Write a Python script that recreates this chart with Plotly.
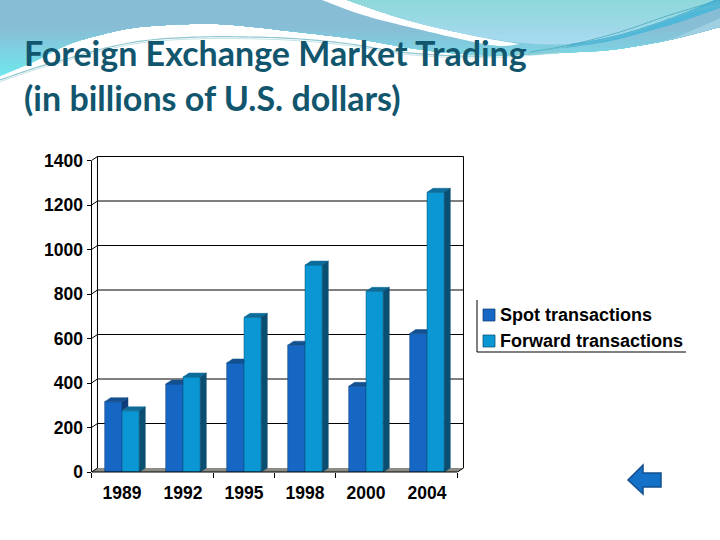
import numpy as np
import plotly.graph_objects as go

W, H = 720, 540
years = ["1989", "1992", "1995", "1998", "2000", "2004"]
spot = [316, 395, 490, 570, 385, 622]
forward = [275, 427, 695, 930, 812, 1257]
y_ticks = [0, 200, 400, 600, 800, 1000, 1200, 1400]
series_names = ["Spot transactions", "Forward transactions"]
title_lines = ["Foreign Exchange Market Trading", "(in billions of U.S. dollars)"]
x_marks = [-0.5, 1.5, 2.5, 3.5, 5.5]

SPOT = dict(front="#1567c3", top="#12508f", side="#103c78")
FWD = dict(front="#0a97d3", top="#0d6c9a", side="#0a4f72")
BW = 0.284
DX, DY = 0.098, 18
XR = [-0.5, 5.62]
YR = [0, 1420]
PX_CAT, PX_UNIT = 61, 0.2225
LEFT, BOTTOM = 91.5, 472


def px(x):
    return x / W


def py(y):
    return 1 - y / H


def smooth(pts, n=10):
    P = np.array([pts[0]] + list(pts) + [pts[-1]], float)
    out = []
    for i in range(1, len(P) - 2):
        for t in np.linspace(0, 1, n, endpoint=False):
            a = 2 * P[i] + (P[i + 1] - P[i - 1]) * t
            b = (2 * P[i - 1] - 5 * P[i] + 4 * P[i + 1] - P[i + 2]) * t * t
            c = (3 * P[i] - P[i - 1] - 3 * P[i + 1] + P[i + 2]) * t ** 3
            out.append(0.5 * (a + b + c))
    out.append(P[-2])
    return [tuple(p) for p in out]


def path(pts, close=True):
    s = "M" + " L".join(f"{px(x):.5f},{py(y):.5f}" for x, y in pts)
    return s + (" Z" if close else "")


def mix(c1, c2, t):
    a = [int(c1[i:i + 2], 16) for i in (1, 3, 5)]
    b = [int(c2[i:i + 2], 16) for i in (1, 3, 5)]
    return "#" + "".join(f"{round(u + (v - u) * t):02x}" for u, v in zip(a, b))


shapes = []


def deco(pts, fill, line=None, lw=1, close=True):
    shapes.append(dict(type="path", path=path(pts, close), xref="paper", yref="paper",
                       fillcolor=fill if close else "rgba(0,0,0,0)",
                       line=dict(color=line or "rgba(0,0,0,0)", width=lw if line else 0),
                       layer="below"))


# header wave: vertical gradients built from stacked clipped polygons
main_edge = smooth([(0, 76), (33, 62), (67, 45), (100, 35), (133, 28), (167, 25), (200, 24),
                    (233, 25), (297, 32), (363, 40), (403, 47), (440, 52), (480, 55), (523, 55),
                    (560, 53), (610, 50), (660, 42), (690, 35), (720, 27)])
for t in np.linspace(80, 4, 20):
    u = (80 - t) / 76
    col = mix("#6fe9ee", "#88bdd6", min(1, u * 1.5))
    deco([(x, min(y, t)) for x, y in main_edge] + [(720, 0), (0, 0)], col)

# far-right light tail and darker band
deco(smooth([(677, 37), (700, 27), (720, 18)]) + [(720, 27), (690, 35), (660, 42)], "#9fcfe0")
deco(smooth([(565, 48), (600, 43), (627, 37), (677, 23), (720, 8)]) + [(720, 0), (640, 0), (577, 40)], "#4fb7d8")

# white stripe
deco(smooth([(347, 0), (397, 17), (447, 30), (490, 39), (520, 44)]) +
     smooth([(520, 44), (490, 45), (413, 28), (363, 15), (322, 0)]), "#ffffff")

# top-right teal region
teal_edge = smooth([(347, 0), (397, 17), (447, 30), (500, 40), (537, 44), (577, 43), (627, 32),
                    (677, 15), (713, 0)])
for t in np.linspace(46, 2, 12):
    u = (46 - t) / 44
    col = mix("#a9daf0", "#8dd8da", u)
    deco([(x, min(y, t)) for x, y in teal_edge], col)

# thin streaks
streak = smooth([(0, 80), (35, 68), (70, 58), (110, 47), (150, 40), (200, 37), (250, 37),
                 (300, 39), (350, 44), (400, 52), (460, 56), (510, 55), (560, 51)])
deco(streak, None, "#8fc6cf", 1.2, False)
deco([(x, y + 1.8) for x, y in streak], None, "#b9dde2", 0.8, False)
deco(smooth([(530, 52), (570, 45), (620, 32), (670, 15), (720, 0)]), None, "#4aa7b8", 0.8, False)
deco(smooth([(545, 50), (590, 43), (640, 30), (690, 12), (720, 5)]), None, "#6cbccb", 0.8, False)

# chart frame: floor, back wall and gridlines, all in data coordinates
floor_x = [XR[0], XR[0] + 6, XR[0] + 6 + DX, XR[0] + DX]
floor_y = [0, 0, DY, DY]
shapes.append(dict(type="path", xref="x", yref="y", layer="below", fillcolor="#8c8c84",
                   line=dict(width=0),
                   path="M" + " L".join(f"{a},{b}" for a, b in zip(floor_x, floor_y)) + " Z"))


def data_line(x0, y0, x1, y1, w=1.0):
    shapes.append(dict(type="line", xref="x", yref="y", x0=x0, y0=y0, x1=x1, y1=y1,
                       layer="below", line=dict(color="#000000", width=w)))


for v in y_ticks:
    if v:
        data_line(XR[0] + DX, v + DY, XR[0] + 6 + DX, v + DY, 1.2)
    data_line(XR[0], v, XR[0] + DX, v + DY)
data_line(XR[0] + DX, DY, XR[0] + DX, y_ticks[-1] + DY)
data_line(XR[0] + 6 + DX, DY, XR[0] + 6 + DX, y_ticks[-1] + DY)
data_line(XR[0] + 6, 0, XR[0] + 6 + DX, DY)
shapes.append(dict(type="line", xref="paper", yref="y", x0=px(LEFT), x1=px(LEFT),
                   y0=0, y1=y_ticks[-1], line=dict(color="#000000", width=1), layer="below"))
shapes.append(dict(type="line", xref="x", yref="paper", x0=XR[0], x1=XR[0] + 6,
                   y0=py(BOTTOM), y1=py(BOTTOM), line=dict(color="#000000", width=1), layer="above"))

# legend frame and swatches
shapes.append(dict(type="line", xref="paper", yref="paper", x0=px(477), x1=px(477),
                   y0=py(300), y1=py(352), line=dict(color="#000", width=1)))
shapes.append(dict(type="line", xref="paper", yref="paper", x0=px(477), x1=px(686),
                   y0=py(352), y1=py(352), line=dict(color="#000", width=1)))
legend_rows = [(315, SPOT), (341, FWD)]
for cy, c in legend_rows:
    shapes.append(dict(type="rect", xref="paper", yref="paper", x0=px(483), x1=px(495),
                       y0=py(cy - 6), y1=py(cy + 6), fillcolor=c["front"],
                       line=dict(color=c["side"], width=0.75)))

# navigation arrow
deco([(628, 480), (643, 465), (643, 473), (661, 473), (661, 487), (643, 487), (643, 494)],
     "#1570c8", "#124f8e", 1.5)
shapes[-1]["layer"] = "above"

fig = go.Figure()
for name, vals, c, off in [(series_names[0], spot, SPOT, -BW), (series_names[1], forward, FWD, 0)]:
    fig.add_trace(go.Bar(x=list(range(len(years))), y=vals, name=name, offset=off, width=BW,
                         marker=dict(color=c["front"], line=dict(color=c["side"], width=0.5)),
                         showlegend=False))


def poly(xs, ys, fill):
    fig.add_trace(go.Scatter(x=xs + xs[:1], y=ys + ys[:1], mode="lines", fill="toself",
                             fillcolor=fill, line=dict(color=fill, width=0.5),
                             hoverinfo="skip", showlegend=False))


for i, (s, f) in enumerate(zip(spot, forward)):
    x0, xm, x1 = i - BW, i, i + BW
    if s > f:
        poly([xm, xm + DX, xm + DX, xm], [s, s + DY, f + DY, f], SPOT["side"])
        poly([x0, xm, xm + DX, x0 + DX], [s, s, s + DY, s + DY], SPOT["top"])
    else:
        poly([x0, xm, xm, x0 + DX], [s, s, s + DY, s + DY], SPOT["top"])
    poly([xm, x1, x1 + DX, xm + DX], [f, f, f + DY, f + DY], FWD["top"])
    poly([x1, x1 + DX, x1 + DX, x1], [0, DY, f + DY, f], FWD["side"])

annotations = [
    dict(text=f"<b>{t}</b>", xref="paper", yref="paper", x=px(22), y=py(yc), xanchor="left",
         yanchor="middle", showarrow=False, font=dict(family="Lato", size=34, color="#12566e"))
    for t, yc in zip(title_lines, [53, 98])
] + [
    dict(text=f"<b>{n}</b>", xref="paper", yref="paper", x=px(497.5), y=py(r[0]), xanchor="left",
         yanchor="middle", showarrow=False, font=dict(family="Liberation Sans", size=18, color="#000"))
    for n, r in zip(series_names, legend_rows)
]

fig.update_layout(
    template="none",
    width=W, height=H, margin=dict(l=0, r=0, t=0, b=0, pad=0), autosize=False,
    paper_bgcolor="#ffffff", plot_bgcolor="rgba(0,0,0,0)", showlegend=False,
    barmode="overlay", shapes=shapes, annotations=annotations,
    font=dict(family="Liberation Sans", color="#000000"),
    xaxis=dict(domain=[px(LEFT), px(LEFT + (XR[1] - XR[0]) * PX_CAT)], range=XR, automargin=False,
               tickvals=list(range(len(years))), ticktext=[f"<b>{y}</b>" for y in years],
               ticks="outside", ticklen=5, tickcolor="rgba(0,0,0,0)", tickfont=dict(size=17.5),
               minor=dict(tickvals=x_marks, ticks="outside", ticklen=5, tickcolor="#000", tickwidth=1),
               showgrid=False, zeroline=False, showline=False),
    yaxis=dict(domain=[py(BOTTOM), py(BOTTOM - YR[1] * PX_UNIT)], range=YR, automargin=False,
               tickvals=y_ticks, ticktext=[f"<b>{v}</b>" for v in y_ticks],
               ticks="outside", ticklen=4, tickcolor="#000", tickwidth=1, tickfont=dict(size=17.5),
               showgrid=False, zeroline=False, showline=False),
)
fig.write_html("out.html", config=dict(displayModeBar=False),
               post_script="document.body.style.margin='0';document.body.style.overflow='hidden';"
                           "document.documentElement.style.overflow='hidden';")
